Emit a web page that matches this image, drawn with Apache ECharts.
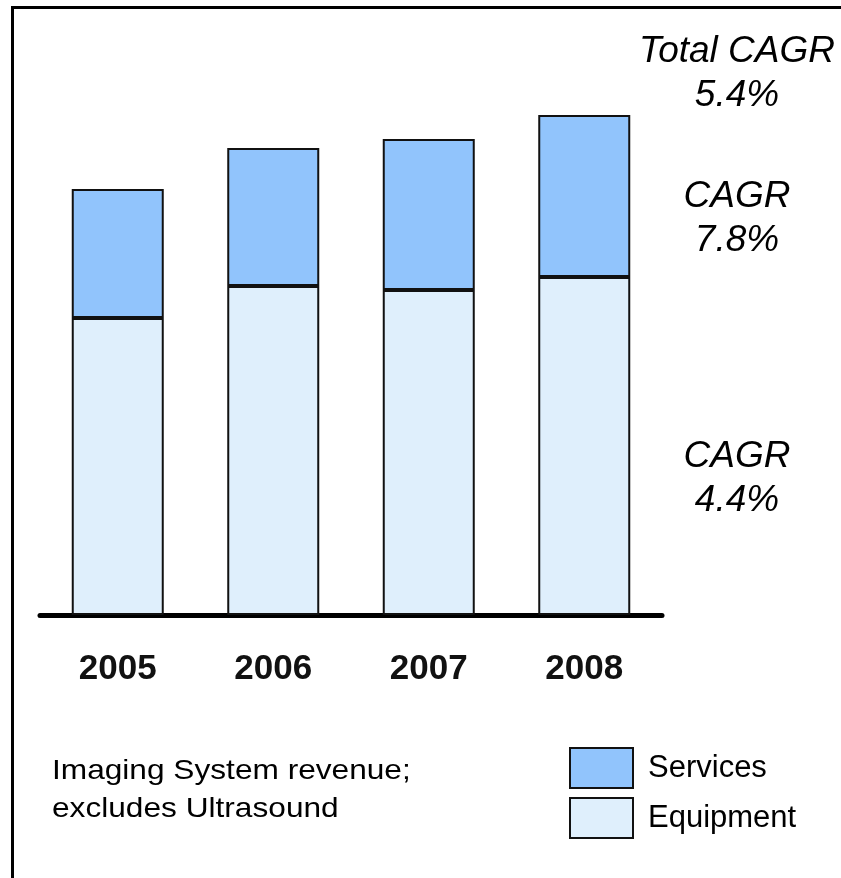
<!DOCTYPE html>
<html>
<head>
<meta charset="utf-8">
<script src="https://cdn.jsdelivr.net/npm/echarts@6/dist/echarts.min.js"></script>
<style>
html,body{margin:0;padding:0;background:#fff;}
#chart{width:841px;height:878px;}
</style>
</head>
<body>
<div id="chart"></div>
<script>
// Data (relative revenue units)
var years = ['2005', '2006', '2007', '2008'];
var equipment = [297, 329, 325, 338];
var services = [129, 138, 151, 162];
var seriesNames = ['Services', 'Equipment'];
var cagrTotal = ['Total CAGR', '5.4%'];
var cagrServices = ['CAGR', '7.8%'];
var cagrEquipment = ['CAGR', '4.4%'];
var noteLines = ['Imaging System revenue;', 'excludes Ultrasound'];

var FONT = '"Liberation Sans", Arial, Helvetica, sans-serif';
var chart = echarts.init(document.getElementById('chart'), null, {renderer: 'canvas'});

function italicText(lines, cx, cy) {
  return {
    type: 'text', x: cx, y: cy,
    style: {
      text: lines.join('\n'), fill: '#000', font: 'italic 37px ' + FONT,
      textAlign: 'center', textVerticalAlign: 'middle', lineHeight: 44
    }
  };
}

var option = {
  backgroundColor: '#fff',
  animation: false,
  grid: {left: 40, right: 179, top: 115, bottom: 263, containLabel: false},
  xAxis: {
    type: 'category', data: years,
    axisLine: {show: true, lineStyle: {color: '#000', width: 5}},
    axisTick: {show: false},
    axisLabel: {color: '#111', fontFamily: FONT, fontWeight: 'bold', fontSize: 35, margin: 37}
  },
  yAxis: {type: 'value', min: 0, max: 500, show: false, splitLine: {show: false}},
  legend: {
    data: seriesNames, orient: 'vertical', left: 569, top: 747, padding: 0,
    itemWidth: 63, itemHeight: 40, itemGap: 8, icon: 'rect',
    textStyle: {fontFamily: FONT, fontSize: 31, color: '#000', padding: [0, 0, 0, 10]},
    selectedMode: false
  },
  series: [
    {
      name: 'Equipment', type: 'bar', stack: 'total', data: equipment, barWidth: 92,
      itemStyle: {color: '#DFEFFC', borderColor: '#111', borderWidth: 2}
    },
    {
      name: 'Services', type: 'bar', stack: 'total', data: services, barWidth: 92,
      itemStyle: {color: '#91C4FC', borderColor: '#111', borderWidth: 2}
    }
  ],
  graphic: [
    {
      type: 'polyline', silent: true,
      shape: {points: [[12.5, 878], [12.5, 7.5], [841, 7.5]]},
      style: {stroke: '#000', lineWidth: 3, fill: null}
    },
    italicText(cagrTotal, 737, 74),
    italicText(cagrServices, 737, 219),
    italicText(cagrEquipment, 737, 479),
    {
      type: 'text', x: 52, y: 790, scaleX: 1.13,
      style: {
        text: noteLines.join('\n'), fill: '#000', font: '28px ' + FONT,
        textAlign: 'left', textVerticalAlign: 'middle', lineHeight: 38
      }
    }
  ]
};
chart.setOption(option);
</script>
</body>
</html>
